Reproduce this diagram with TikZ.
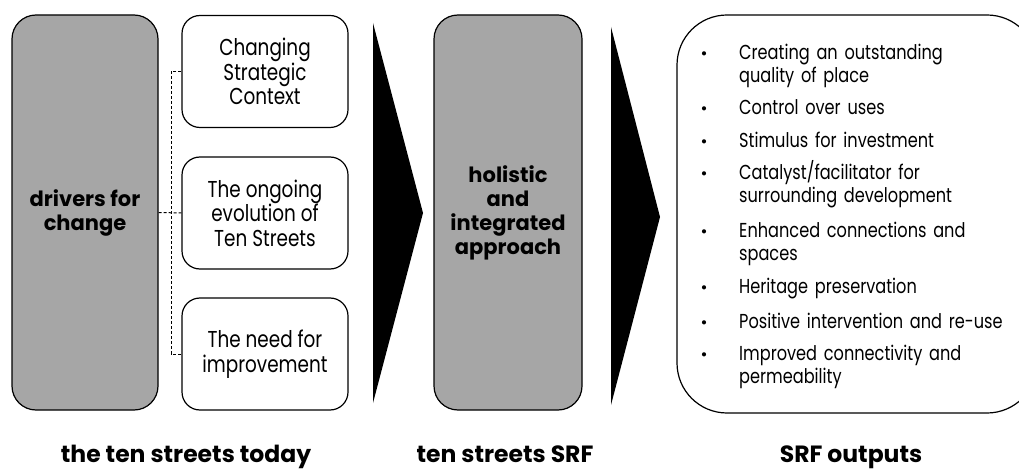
\documentclass[tikz,border=0pt]{standalone}
\usepackage{fontspec}
\setmainfont{Poppins}[FakeStretch=0.8]
\newfontfamily\headfont{Poppins}
\definecolor{boxgray}{HTML}{A6A6A6}
\begin{document}
\begin{tikzpicture}[x=1pt,y=-1pt,
  outline/.style={draw=black, line width=1.2pt},
  graybox/.style={outline, fill=boxgray, rounded corners=24pt, minimum width=146pt, minimum height=395pt, inner sep=0pt, align=center, font=\headfont\fontsize{21}{24}\selectfont\bfseries},
  whitebox/.style={outline, fill=white, rounded corners=18pt, minimum width=166pt, minimum height=112pt, inner sep=0pt, align=center, font=\fontsize{23}{24.5}\selectfont},
  conn/.style={draw=black, line width=1pt, dash pattern=on 3pt off 2pt},
  chevron/.style={fill=black},
  item/.style={anchor=base west, inner sep=0pt, text width=285pt, align=left, font=\fontsize{20.2}{23}\selectfont},
  dot/.style={anchor=base, inner sep=0pt, font=\headfont\fontsize{17}{19}\selectfont},
  caption/.style={anchor=base, inner sep=0pt, font=\headfont\fontsize{23.5}{26}\selectfont\bfseries}]
\clip (0,0) rectangle (1019,470);
\fill[white] (0,0) rectangle (1019,470);

\node[graybox] (drivers) at (85,212.5) {drivers for\\change};
\node[whitebox] (w1) at (265,71.5) {Changing\\Strategic\\Context};
\node[whitebox] (w2) at (265,213) {The ongoing\\evolution of\\Ten Streets};
\node[whitebox] (w3) at (265,354) {The need for\\improvement};

\coordinate (j) at (171,213);
\draw[conn] (w1.west) -- (w1.west -| j) -- (w3.west -| j) -- (w3.west);
\draw[conn] (drivers.east) -- (w2.west);

\fill[chevron] (373,23) -- (423,213) -- (373,403) -- cycle;

\node[graybox, minimum width=148pt] (srf) at (508,212.5) {holistic\\and\\integrated\\approach};

\fill[chevron] (611,27) -- (660,217) -- (611,405) -- cycle;

\node[outline, fill=white, rounded corners=50pt, minimum width=360pt, minimum height=398pt, inner sep=0pt] (out) at (857,214) {};

\foreach \y/\t [count=\i] in {60/{Creating an outstanding\\quality of place},
  115/{Control over uses},
  148/{Stimulus for investment},
  180/{Catalyst/facilitator for\\surrounding development},
  237/{Enhanced connections and\\spaces},
  293/{Heritage preservation},
  328/{Positive intervention and re-use},
  360/{Improved connectivity and\\permeability}}{
  \node[dot] (d\i) at (704,\y) {•};
  \node[item] (b\i) at (739,\y) {\t};
}

\node[caption] (c1) at (186,462) {the ten streets today};
\node[caption] (c2) at (505,462) {ten streets SRF};
\node[caption] (c3) at (851,462) {SRF outputs};
\end{tikzpicture}
\end{document}
